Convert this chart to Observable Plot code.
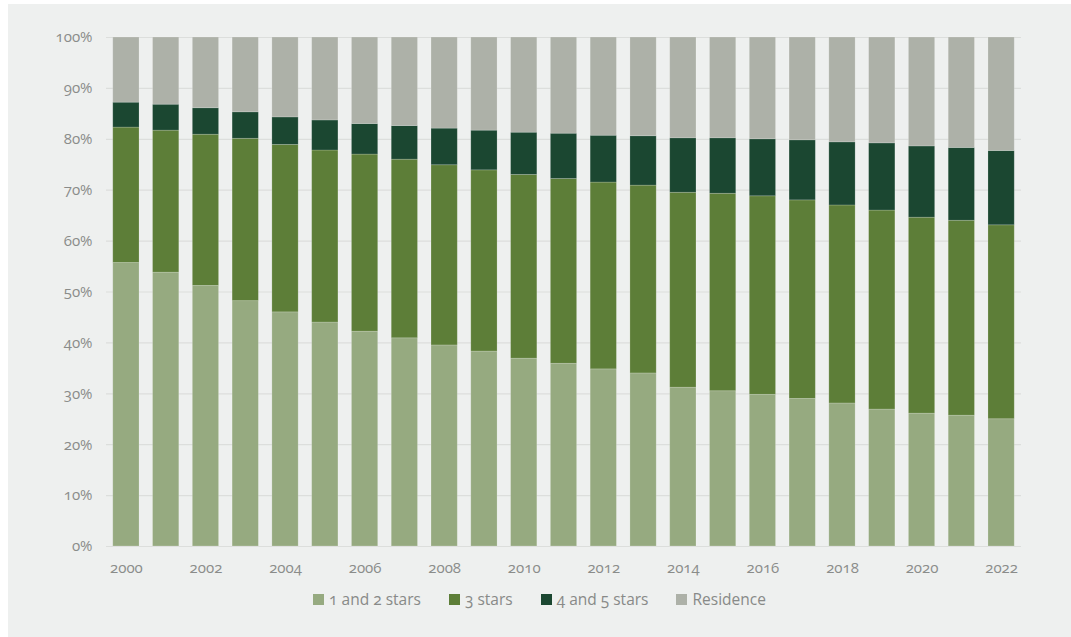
<!DOCTYPE html>
<html>
<head>
<meta charset="utf-8">
<script src="https://cdn.jsdelivr.net/npm/d3@7"></script>
<script src="https://cdn.jsdelivr.net/npm/@observablehq/plot@0.6"></script>
<style>
  html, body { margin: 0; padding: 0; background: #ffffff; }
  #panel {
    position: absolute; left: 8px; top: 4px; width: 1063px; height: 633px;
    background: #eef0ef; font-family: "Open Sans", sans-serif;
    font-variant-numeric: oldstyle-nums; font-feature-settings: "onum" 1;
  }
  #chart svg { display: block; }
  #legend {
    display: flex; justify-content: center; align-items: center; gap: 28px;
    margin-top: 6px; font-size: 15.5px; color: #888a88;
  }
  #legend .item { display: flex; align-items: center; gap: 5px; }
  #legend .sw { width: 11px; height: 11px; display: inline-block; }
</style>
</head>
<body>
<div id="panel">
  <div id="chart"></div>
  <div id="legend"></div>
</div>
<script>
// Hotel bed share by category, 2000-2022 (percent of total)
const years = [2000, 2001, 2002, 2003, 2004, 2005, 2006, 2007, 2008, 2009, 2010, 2011,
               2012, 2013, 2014, 2015, 2016, 2017, 2018, 2019, 2020, 2021, 2022];
const series = ["1 and 2 stars", "3 stars", "4 and 5 stars", "Residence"];
const colors = ["#96aa80", "#5d7e38", "#1b4731", "#adb1a8"];

const oneTwoStars = [55.7, 53.8, 51.2, 48.2, 46.0, 44.0, 42.2, 40.9, 39.5, 38.3, 36.9, 35.9,
                     34.8, 34.0, 31.2, 30.5, 29.8, 29.0, 28.1, 26.9, 26.1, 25.7, 25.0];
const threeStars = [26.6, 27.9, 29.7, 31.9, 32.9, 33.8, 34.8, 35.1, 35.4, 35.6, 36.1, 36.3,
                    36.7, 36.9, 38.3, 38.8, 39.0, 39.0, 38.9, 39.1, 38.5, 38.3, 38.1];
const fourFiveStars = [4.9, 5.1, 5.2, 5.2, 5.4, 5.9, 6.0, 6.6, 7.2, 7.8, 8.3, 8.9,
                       9.2, 9.7, 10.7, 10.9, 11.2, 11.8, 12.4, 13.2, 14.0, 14.3, 14.6];
const residence = [12.8, 13.2, 13.9, 14.7, 15.7, 16.3, 17.0, 17.4, 17.9, 18.3, 18.7, 18.9,
                   19.3, 19.4, 19.8, 19.8, 20.0, 20.2, 20.6, 20.8, 21.4, 21.7, 22.3];
const yTicks = [0, 10, 20, 30, 40, 50, 60, 70, 80, 90, 100];
const xTickYears = [2000, 2002, 2004, 2006, 2008, 2010, 2012, 2014, 2016, 2018, 2020, 2022];

const valuesBySeries = [oneTwoStars, threeStars, fourFiveStars, residence];
const rows = [];
series.forEach((s, i) => {
  years.forEach((y, j) => rows.push({year: y, series: s, value: valuesBySeries[i][j]}));
});

const chart = Plot.plot({
  width: 1063,
  height: 578,
  marginLeft: 98,
  marginRight: 50,
  marginTop: 33,
  marginBottom: 36,
  style: {background: "transparent", fontFamily: "Open Sans, sans-serif", fontSize: "15px", color: "#8a8c8a"},
  x: {
    type: "band", domain: years, paddingInner: 0.34, paddingOuter: 0.17, round: false,
    ticks: xTickYears, tickSize: 0, tickPadding: 16, tickFormat: d => String(d), label: null
  },
  y: {
    domain: [0, 100], ticks: yTicks, tickSize: 0, tickPadding: 14,
    tickFormat: d => d + "%", label: null
  },
  color: {domain: series, range: colors},
  marks: [
    Plot.ruleY(yTicks, {stroke: "#dcdedc", strokeWidth: 1.2}),
    Plot.barY(rows, {
      x: "year", y: "value", fill: "series", order: series,
      stroke: "#ffffff", strokeOpacity: 0.22, strokeWidth: 0.8
    })
  ]
});
document.getElementById("chart").appendChild(chart);

// Legend below the chart
const legend = document.getElementById("legend");
series.forEach((s, i) => {
  const item = document.createElement("span");
  item.className = "item";
  const sw = document.createElement("span");
  sw.className = "sw";
  sw.style.background = colors[i];
  const label = document.createElement("span");
  label.textContent = s;
  item.appendChild(sw);
  item.appendChild(label);
  legend.appendChild(item);
});
</script>
</body>
</html>
